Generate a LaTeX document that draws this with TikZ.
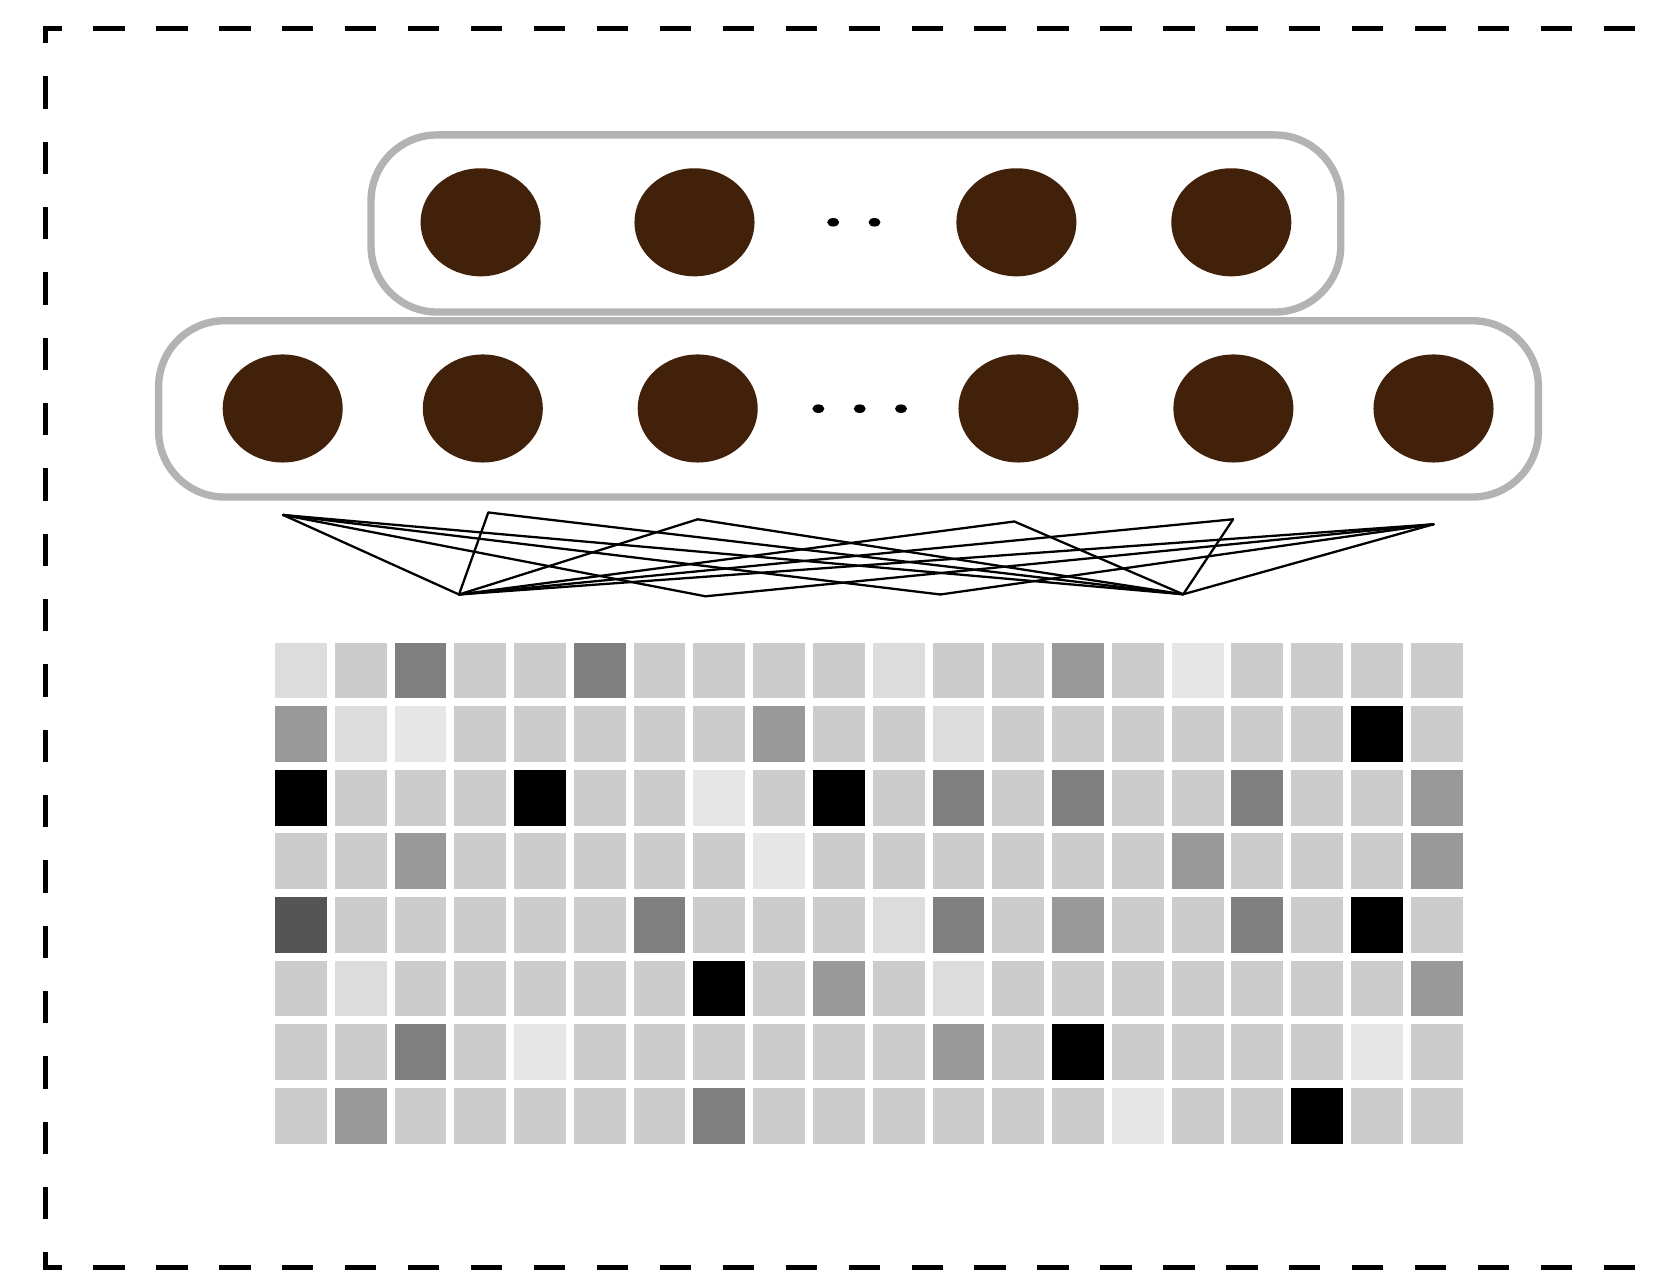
\documentclass[tikz,border=0pt]{standalone}
\usetikzlibrary{shapes.geometric}
\definecolor{Bean}{HTML}{42210B}
\definecolor{Frame}{HTML}{B3B3B3}
\definecolor{cellC}{HTML}{CCCCCC}
\definecolor{cellL}{HTML}{DCDCDC}
\definecolor{cellW}{HTML}{E6E6E6}
\definecolor{cellG}{HTML}{999999}
\definecolor{cellD}{HTML}{808080}
\definecolor{cellE}{HTML}{555555}
\definecolor{cellK}{HTML}{000000}
\begin{document}
\begin{tikzpicture}[x=0.01cm,y=-0.01cm,
  layerbox/.style={draw=Frame,line width=2.1pt,rounded corners=0.66cm,inner sep=0pt},
  neuron/.style={ellipse,fill=Bean,minimum width=1.2cm,minimum height=1.08cm,inner sep=0pt},
  gapdot/.style={ellipse,fill=black,minimum width=0.12cm,minimum height=0.085cm,inner sep=0pt},
  link/.style={line width=0.65pt,line cap=round,black},
  hdash/.style={line width=1.42pt,dash pattern=on 0.313cm off 0.316cm,dash phase=0.129cm},
  vdash/.style={line width=1.42pt,dash pattern=on 0.323cm off 0.33cm,dash phase=0.148cm}]
  \useasboundingbox (0,0) rectangle (1660,1277);

  \draw[hdash] (43.3,28.3) -- (1700,28.3);
  \draw[hdash] (43.3,1267.5) -- (1700,1267.5);
  \draw[vdash] (45.8,25.8) -- (45.8,1270);

  \node[layerbox,minimum width=9.692cm,minimum height=1.77cm] (upper) at (855.9,223.5) {};
  \node[layerbox,minimum width=13.79cm,minimum height=1.762cm] (lower) at (848.5,408.9) {};

  \node[neuron] (up1) at (480.6,222.3) {};
  \node[neuron] (up2) at (694.5,222.3) {};
  \node[neuron] (up3) at (1016.4,222.3) {};
  \node[neuron] (up4) at (1231.3,222.3) {};
  \node[gapdot] (ud1) at (833.2,222.3) {};
  \node[gapdot] (ud2) at (874.5,222.3) {};

  \node[neuron] (lo1) at (282.7,408.5) {};
  \node[neuron] (lo2) at (482.8,408.5) {};
  \node[neuron] (lo3) at (697.7,408.5) {};
  \node[neuron] (lo4) at (1018.5,408.5) {};
  \node[neuron] (lo5) at (1233.4,408.5) {};
  \node[neuron] (lo6) at (1433.5,408.5) {};
  \node[gapdot] (ld1) at (818.4,408.7) {};
  \node[gapdot] (ld2) at (859.7,408.7) {};
  \node[gapdot] (ld3) at (901.0,408.7) {};

  \coordinate (t1) at (283.2,515);
  \coordinate (t2) at (488.3,512.5);
  \coordinate (t3) at (697.7,519.3);
  \coordinate (t4) at (1014.3,521.5);
  \coordinate (t5) at (1233.1,519.3);
  \coordinate (t6) at (1433.6,524.3);
  \coordinate (b1) at (459,594.5);
  \coordinate (b2) at (705.5,596.3);
  \coordinate (b3) at (940.4,594.5);
  \coordinate (b4) at (1183.2,594.3);
  \foreach \a/\b in {t1/b1,t1/b2,t1/b3,t1/b4,t2/b1,t2/b4,t3/b1,t3/b4,
    t4/b1,t4/b4,t5/b1,t5/b4,t6/b1,t6/b2,t6/b3,t6/b4}
    \draw[link] (\a) -- (\b);

  \foreach \row [count=\i from 0] in {
    {L,C,D,C,C,D,C,C,C,C,L,C,C,G,C,W,C,C,C,C},
    {G,L,W,C,C,C,C,C,G,C,C,L,C,C,C,C,C,C,K,C},
    {K,C,C,C,K,C,C,W,C,K,C,D,C,D,C,C,D,C,C,G},
    {C,C,G,C,C,C,C,C,W,C,C,C,C,C,C,G,C,C,C,G},
    {E,C,C,C,C,C,D,C,C,C,L,D,C,G,C,C,D,C,K,C},
    {C,L,C,C,C,C,C,K,C,G,C,L,C,C,C,C,C,C,C,G},
    {C,C,D,C,W,C,C,C,C,C,C,G,C,K,C,C,C,C,W,C},
    {C,G,C,C,C,C,C,D,C,C,C,C,C,C,W,C,C,K,C,C}}
    \foreach \c [count=\j from 0] in \row
      \fill[fill=cell\c] ({275+59.78*\j},{642.7+63.6*\i}) rectangle +(51.8,55.7);
\end{tikzpicture}
\end{document}
